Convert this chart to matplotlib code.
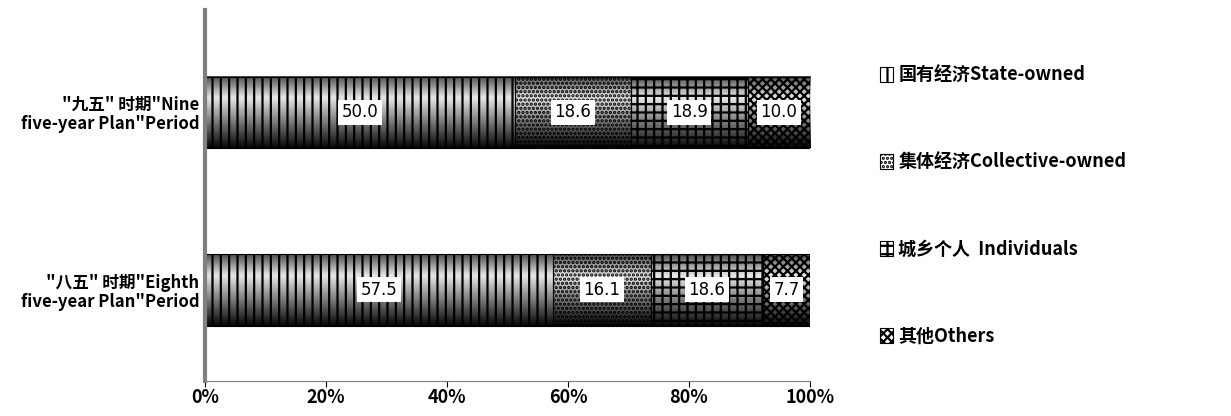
import numpy as np
import matplotlib
matplotlib.use('Agg')
import matplotlib.pyplot as plt
from matplotlib.ticker import PercentFormatter

plt.rcParams['font.family'] = ['Noto Sans CJK SC', 'DejaVu Sans']
plt.rcParams['hatch.linewidth'] = 1.6

# 数据
periods = ['"八五" 时期"Eighth\nfive-year Plan"Period',
           '"九五" 时期"Nine\nfive-year Plan"Period']
series_names = ['国有经济State-owned', '集体经济Collective-owned',
                '城乡个人  Individuals', '其他Others']
state_owned = [57.5, 50.0]
collective = [16.1, 18.6]
individuals = [18.6, 18.9]
others = [7.7, 10.0]

hatches = ['||', '....', '++', 'xxxx']

values = np.array([state_owned, collective, individuals, others])
shares = values / values.sum(axis=0) * 100

fig = plt.figure(figsize=(12.31, 4.16), dpi=100)
ax = fig.add_axes([0.1665, 0.085, 0.4915, 0.89])

y = np.arange(len(periods))
h = 0.40

# 圆柱阴影
grad = np.concatenate([np.linspace(0.3, 0.9, 30), np.linspace(0.9, 0.02, 70)])
grad = grad.reshape(-1, 1)

left = np.zeros(len(periods))
handles = []
for i, name in enumerate(series_names):
    for j in range(len(periods)):
        ax.imshow(grad, cmap='gray', vmin=0, vmax=1, aspect='auto',
                  extent=[left[j], left[j] + shares[i, j], y[j] - h / 2, y[j] + h / 2],
                  zorder=1)
    bars = ax.barh(y, shares[i], h, left=left, color='none', edgecolor='black',
                   hatch=hatches[i], linewidth=0.8, zorder=2, label=name)
    handles.append(bars)
    for j in range(len(periods)):
        ax.text(left[j] + shares[i, j] / 2, y[j], f'{values[i, j]:.1f}',
                ha='center', va='center', fontsize=12, family=['DejaVu Sans'],
                bbox=dict(facecolor='white', edgecolor='none', pad=2.5), zorder=3)
    left += shares[i]

ax.set_xlim(0, 100)
ax.set_ylim(-0.51, 1.573)
ax.set_yticks(y)
ax.set_yticklabels(periods, fontsize=12, fontweight='bold', linespacing=1.05)
ax.set_xticks([0, 20, 40, 60, 80, 100])
ax.xaxis.set_major_formatter(PercentFormatter(decimals=0))
ax.tick_params(axis='x', labelsize=13, length=4, pad=1)
ax.tick_params(axis='y', length=0, pad=4)
for lab in ax.get_xticklabels():
    lab.set_fontweight('bold')

for s in ['top', 'right']:
    ax.spines[s].set_visible(False)
ax.spines['left'].set_color('gray')
ax.spines['left'].set_linewidth(3)
ax.spines['bottom'].set_color('gray')

leg = fig.legend(handles=handles, loc='upper left', bbox_to_anchor=(0.702, 0.88),
                 frameon=False, handlelength=0.7, handleheight=0.9,
                 labelspacing=3.75, handletextpad=0.3,
                 prop={'size': 13, 'weight': 'bold'})

plt.savefig('out.png', dpi=100)
